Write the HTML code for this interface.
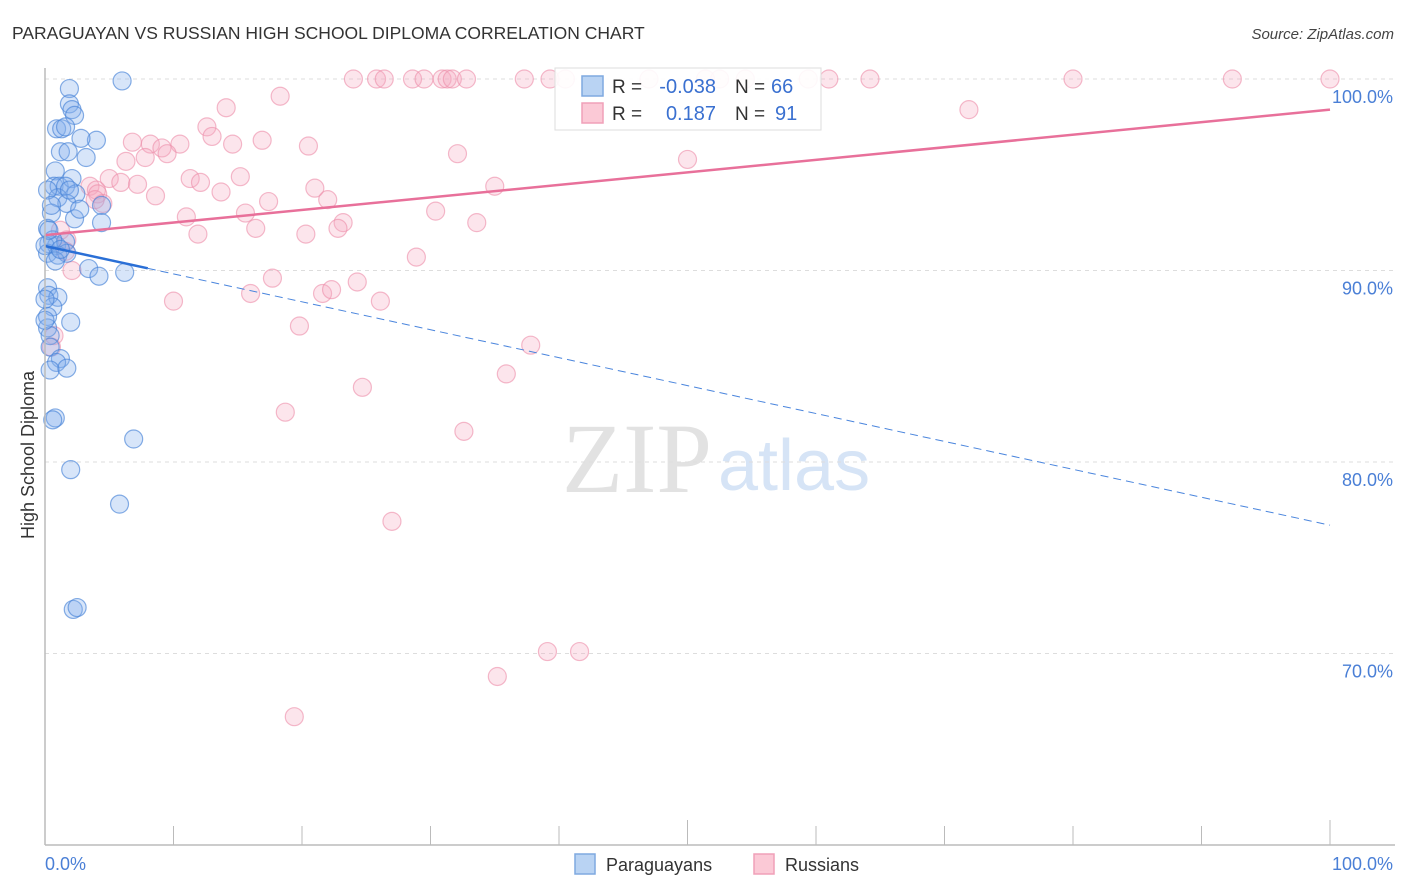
<!DOCTYPE html>
<html><head><meta charset="utf-8">
<style>
body{margin:0;background:#fff;font-family:"Liberation Sans",sans-serif;}
svg{display:block}
</style></head>
<body>
<svg id="chart" width="1406" height="892">
<text x="12" y="39" font-size="17.5" fill="#333">PARAGUAYAN VS RUSSIAN HIGH SCHOOL DIPLOMA CORRELATION CHART</text>
<text x="1394" y="39" font-size="15" fill="#444" font-style="italic" text-anchor="end">Source: ZipAtlas.com</text>
<g>
<text x="712" y="492" font-size="100" fill="#e2e2e2" font-family="Liberation Serif, serif" text-anchor="end">ZIP</text>
<text x="718" y="490" font-size="72" fill="#d6e4f6">atlas</text>
</g>
<g id="grid"></g>
<g id="points"></g>
<g id="lines"></g>
<line x1="45" y1="68" x2="45" y2="845" stroke="#bbb" stroke-width="1.5"/>
<line x1="45" y1="845" x2="1395" y2="845" stroke="#bbb" stroke-width="1.5"/>
<text transform="translate(34,455) rotate(-90)" font-size="18" fill="#333" text-anchor="middle">High School Diploma</text>
<text x="45" y="870" font-size="18" fill="#4a7fd6">0.0%</text>
<text x="1393" y="870" font-size="18" fill="#4a7fd6" text-anchor="end">100.0%</text>
<g>
<rect x="575" y="854" width="20" height="20" fill="#b9d3f3" stroke="#7fa9e0" stroke-width="1.5"/>
<text x="606" y="871" font-size="18" fill="#333">Paraguayans</text>
</g>
<g>
<rect x="754" y="854" width="20" height="20" fill="#fbc9d6" stroke="#f0a0b8" stroke-width="1.5"/>
<text x="785" y="871" font-size="18" fill="#333">Russians</text>
</g>
<g>
<rect x="555" y="68" width="266" height="62" fill="rgba(255,255,255,0.9)" stroke="#ddd"/>
<rect x="582" y="76" width="21" height="20" fill="#b9d3f3" stroke="#7fa9e0" stroke-width="1.5"/>
<rect x="582" y="103" width="21" height="20" fill="#fbc9d6" stroke="#f0a0b8" stroke-width="1.5"/>
<text x="612" y="93" font-size="19" fill="#333">R =</text>
<text x="716" y="93" font-size="20" fill="#3a70d0" text-anchor="end">-0.038</text>
<text x="735" y="93" font-size="19" fill="#333">N =</text>
<text x="771" y="93" font-size="20" fill="#3a70d0">66</text>
<text x="612" y="120" font-size="19" fill="#333">R =</text>
<text x="716" y="120" font-size="20" fill="#3a70d0" text-anchor="end">0.187</text>
<text x="735" y="120" font-size="19" fill="#333">N =</text>
<text x="775" y="120" font-size="20" fill="#3a70d0">91</text>
</g>
</svg>
<script>
const yTicks=[100,90,80,70];
const yTickLabels=["100.0%","90.0%","80.0%","70.0%"];
const xTicks=[0,10,20,30,40,50,60,70,80,90,100];
const blueX=[6.0,1.9,1.9,2.1,2.3,0.9,1.3,1.6,4.0,2.8,1.2,1.8,3.2,0.8,0.7,1.1,2.1,1.6,2.4,1.0,1.7,4.4,0.5,2.3,4.4,0.2,0.3,0.9,1.6,0.2,1.0,1.7,3.4,4.2,6.2,0.2,0.3,1.0,0.6,0.2,2.0,0.2,0.4,0.4,1.2,0.9,0.4,1.7,0.8,0.6,6.9,2.0,5.8,2.2,2.5,0.8,0.0,0.6,1.2,0.3,1.9,2.7,0.0,0.0,0.2,0.5];
const blueY=[99.9,99.5,98.7,98.4,98.1,97.4,97.4,97.5,96.8,96.9,96.2,96.2,95.9,95.2,94.4,94.4,94.8,94.4,94.0,93.8,93.5,93.4,93.0,92.7,92.5,92.2,91.4,91.3,91.5,90.9,90.8,90.9,90.1,89.7,89.9,89.1,88.7,88.6,88.1,87.6,87.3,87.0,86.6,86.0,85.4,85.2,84.8,84.9,82.3,82.2,81.2,79.6,77.8,72.3,72.4,90.5,91.3,91.6,91.1,92.1,94.2,93.2,87.4,88.5,94.2,93.4];
const pinkX=[24.0,25.8,26.4,28.6,29.5,30.9,31.3,31.7,32.8,37.3,39.3,40.5,47.0,51.4,52.5,54.5,59.4,61.0,64.2,80.0,92.4,100,
18.3,14.1,71.9,12.6,13.0,6.8,8.2,10.5,14.6,16.9,20.5,9.1,9.5,7.8,6.3,50.0,32.1,11.3,5.0,5.9,12.1,15.2,3.5,4.0,7.2,4.1,4.5,8.6,13.7,21.0,17.4,22.0,35.0,11.0,15.6,30.4,23.2,11.9,16.4,20.3,33.6,22.8,1.7,1.6,2.1,28.9,17.7,24.3,10.0,16.0,21.6,22.3,26.1,19.8,37.8,0.7,0.5,35.9,24.7,18.7,32.6,27.0,39.1,41.6,35.2,19.4,1.2,3.9];
const pinkY=[100,100,100,100,100,100,100,100,100,100,100,100,100,100,100,100,100,100,100,100,100,100,
99.1,98.5,98.4,97.5,97.0,96.7,96.6,96.6,96.6,96.8,96.5,96.4,96.1,95.9,95.7,95.8,96.1,94.8,94.8,94.6,94.6,94.9,94.4,94.2,94.5,94.0,93.5,93.9,94.1,94.3,93.6,93.7,94.4,92.8,93.0,93.1,92.5,91.9,92.2,91.9,92.5,92.2,91.6,91.0,90.0,90.7,89.6,89.4,88.4,88.8,88.8,89.0,88.4,87.1,86.1,86.6,86.0,84.6,83.9,82.6,81.6,76.9,70.1,70.1,68.8,66.7,92.1,93.7];
const pinkTrend=[91.85,98.4];
const blueTrend=[91.28,76.7];
const blueSolidEnd=8;

const X0=45,X1=1330,Y100=79,PXPER=19.15;
const sx=v=>X0+(X1-X0)*v/100;
const sy=v=>Y100+(100-v)*PXPER;
const NS="http://www.w3.org/2000/svg";
function mk(tag,attrs,parent){const e=document.createElementNS(NS,tag);for(const k in attrs)e.setAttribute(k,attrs[k]);parent.appendChild(e);return e;}
const grid=document.getElementById('grid');
yTicks.forEach((t,i)=>{
 const l=mk('line',{x1:45,x2:1395,y1:sy(t),y2:sy(t),stroke:'#ddd','stroke-dasharray':'4,4'},grid);
 
 
 const tx=mk('text',{x:1393,y:sy(t)+24,'font-size':18,fill:'#4a7fd6','text-anchor':'end'},grid);
 tx.textContent=yTickLabels[i];
 
 
});
xTicks.forEach(t=>{
 if(t===0)return;
 const top=(t===50||t===100)?820:826;
 const l=mk('line',{x1:sx(t),x2:sx(t),y1:top,y2:845,stroke:'#bbb'},grid);
 
 
});
const pts=document.getElementById('points');
pinkX.forEach((v,i)=>{
 const c=mk('circle',{cx:sx(v),cy:sy(pinkY[i]),r:9,fill:'rgba(246,170,192,0.3)',stroke:'rgba(236,140,168,0.6)','stroke-width':1.2},pts);
 
 
});
blueX.forEach((v,i)=>{
 const c=mk('circle',{cx:sx(v),cy:sy(blueY[i]),r:9,fill:'rgba(130,175,235,0.32)',stroke:'rgba(70,130,215,0.65)','stroke-width':1.2},pts);
 
 
});
const lines=document.getElementById('lines');
const pl=mk('line',{x1:sx(0),y1:sy(pinkTrend[0]),x2:sx(100),y2:sy(pinkTrend[1]),stroke:'#e8709a','stroke-width':2.5},lines);


const bAt=x=>blueTrend[0]+(blueTrend[1]-blueTrend[0])*x/100;
const bl=mk('line',{x1:sx(0),y1:sy(bAt(0)),x2:sx(blueSolidEnd),y2:sy(bAt(blueSolidEnd)),stroke:'#2a6fd6','stroke-width':2.5},lines);


const bd=mk('line',{x1:sx(blueSolidEnd),y1:sy(bAt(blueSolidEnd)),x2:sx(100),y2:sy(bAt(100)),stroke:'#4a85dd','stroke-width':1,'stroke-dasharray':'8,5'},lines);


</script>
</body></html>
